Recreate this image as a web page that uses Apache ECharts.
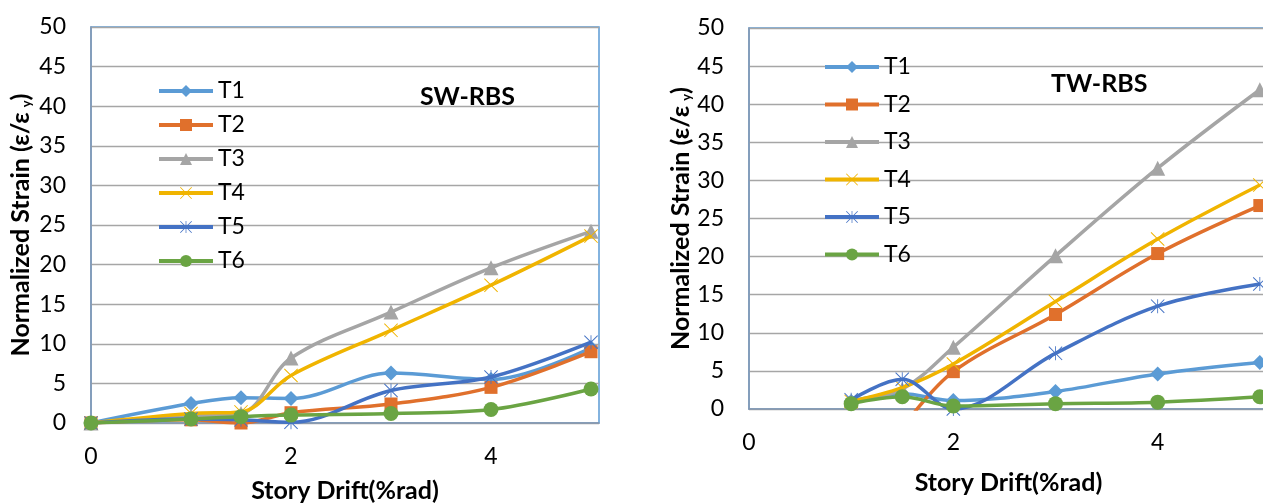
<!DOCTYPE html>
<html>
<head>
<meta charset="utf-8">
<script src="https://cdn.jsdelivr.net/npm/echarts@6/dist/echarts.min.js"></script>
<style>
html,body{margin:0;padding:0;background:#fff;}
#c{width:1263px;height:503px;}
</style>
</head>
<body>
<div id="c"></div>
<script>
// ---------- data ----------
const seriesNames = ['T1', 'T2', 'T3', 'T4', 'T5', 'T6'];
const xTicks = [0, 2, 4];

// SW-RBS (left)
const swX  = [0, 1, 1.5, 2, 3, 4, 5];
const swT1 = [0, 2.45, 3.2, 3.1, 6.3, 5.5, 9.5];
const swT2 = [0, 0.4, 0.0, 1.3, 2.4, 4.5, 9.0];
const swT3 = [0, 0.9, 1.2, 8.2, 14.0, 19.6, 24.2];
const swT4 = [0, 1.2, 1.4, 6.0, 11.7, 17.4, 23.6];
const swT5 = [0, 0.5, 0.4, 0.1, 4.1, 5.8, 10.2];
const swT6 = [0, 0.5, 0.8, 1.0, 1.2, 1.7, 4.3];

// TW-RBS (right)
const twX  = [1, 1.5, 2, 3, 4, 5];
const twT1 = [1.0, 2.0, 1.1, 2.3, 4.6, 6.1];
const twT2 = [null, -2.5, 4.9, 12.4, 20.4, 26.7];
const twT3 = [1.0, 2.6, 8.1, 20.1, 31.6, 41.9];
const twT4 = [1.0, 2.8, 5.9, 14.1, 22.3, 29.4];
const twT5 = [1.2, 3.9, 0.0, 7.3, 13.5, 16.4];
const twT6 = [0.7, 1.6, 0.4, 0.7, 0.9, 1.6];

// ---------- styles ----------
const colors = ['#5B9BD5', '#E0702C', '#A5A5A5', '#F0B400', '#4472C4', '#6AA443'];
const xPath = 'path://M0,1 L1,0 L10,9 L19,0 L20,1 L11,10 L20,19 L19,20 L10,11 L1,20 L0,19 L9,10 Z';
const starPath = 'path://M0,1 L1,0 L10,9 L19,0 L20,1 L11,10 L20,19 L19,20 L10,11 L1,20 L0,19 L9,10 Z M9.4,0 L10.6,0 L10.6,20 L9.4,20 Z';
const symbols = ['diamond', 'rect', 'triangle', xPath, starPath, 'circle'];
const symbolSizes = [15, 13, 15, 14, 14, 15];
const FONT = 'Lato';

function pairs(xs, ys) { return xs.map((x, i) => [x, ys[i]]); }

const swData = [swT1, swT2, swT3, swT4, swT5, swT6];
const twData = [twT1, twT2, twT3, twT4, twT5, twT6];

const series = [];
[swData, twData].forEach((set, gi) => {
  const xs = gi === 0 ? swX : twX;
  set.forEach((ys, i) => {
    series.push({
      name: seriesNames[i],
      type: 'line',
      xAxisIndex: gi, yAxisIndex: gi,
      data: pairs(xs, ys),
      smooth: 0.35,
      clip: true,
      symbol: symbols[i],
      symbolSize: symbolSizes[i],
      showAllSymbol: true,
      lineStyle: { width: 3.5, color: colors[i] },
      itemStyle: { color: colors[i] },
      z: 2 + i
    });
  });
});

function xAxis(gi, nameGap) {
  return {
    type: 'value', gridIndex: gi, min: 0, max: 5.08, interval: 2,
    splitLine: { show: false },
    axisTick: { show: false },
    axisLine: { show: true, lineStyle: { color: '#8497B0', width: 1.5 } },
    axisLabel: { fontSize: 23, fontFamily: FONT, color: '#000', margin: 22, showMaxLabel: false,
      formatter: v => (xTicks.indexOf(v) >= 0 ? String(v) : '') },
    name: 'Story Drift(%rad)', nameLocation: 'middle', nameGap: nameGap,
    nameTextStyle: { fontSize: 25, fontWeight: 'bold', fontFamily: FONT, color: '#000' }
  };
}
function yAxis(gi, nameGap) {
  return {
    type: 'value', gridIndex: gi, min: 0, max: 50, interval: 5,
    splitLine: { show: true, lineStyle: { color: '#A6A6A6', width: 1.3 } },
    axisTick: { show: false },
    axisLine: { show: true, lineStyle: { color: '#8497B0', width: 1.5 } },
    axisLabel: { fontSize: 23, fontFamily: FONT, color: '#000', margin: 25 },
    name: '{n|Normalized Strain (ε/ε}{s|y}{n|)}', nameLocation: 'middle', nameRotate: 90, nameGap: nameGap,
    nameTextStyle: {
      rich: {
        n: { fontSize: 25, fontWeight: 'bold', fontFamily: FONT, color: '#000' },
        s: { fontSize: 13, fontWeight: 'bold', fontFamily: FONT, color: '#000', padding: [12, 0, 0, 5] }
      }
    }
  };
}
function legend(left, top, gap) {
  return {
    data: seriesNames, orient: 'vertical', left: left, top: top, padding: 0,
    itemWidth: 54, itemHeight: 15, itemGap: gap,
    lineStyle: { width: 4 },
    textStyle: { fontSize: 23, fontFamily: FONT, color: '#000' },
    selectedMode: false
  };
}

const option = {
  backgroundColor: '#fff',
  animation: false,
  color: colors,
  title: [
    { text: 'SW-RBS', left: 415, top: 79, textStyle: { fontSize: 25, fontWeight: 'bold', fontFamily: FONT, color: '#000' } },
    { text: 'TW-RBS', left: 1046, top: 66, textStyle: { fontSize: 25, fontWeight: 'bold', fontFamily: FONT, color: '#000' } }
  ],
  legend: [legend(157, 79.5, 11), legend(823, 55.5, 14.5)],
  grid: [
    { left: 91, top: 27, right: 664, bottom: 80, show: true, borderColor: '#5B9BD5', borderWidth: 1.5,
      backgroundColor: 'transparent', containLabel: false, outerBoundsMode: 'none' },
    { left: 749, top: 28, right: -5, bottom: 94, show: true, borderColor: '#5B9BD5', borderWidth: 1.5,
      backgroundColor: 'transparent', containLabel: false, outerBoundsMode: 'none' }
  ],
  xAxis: [xAxis(0, 55), xAxis(1, 61)],
  yAxis: [yAxis(0, 58), yAxis(1, 34)],
  series: series
};

const chart = echarts.init(document.getElementById('c'), null, { renderer: 'canvas' });
chart.setOption(option);
</script>
</body>
</html>
